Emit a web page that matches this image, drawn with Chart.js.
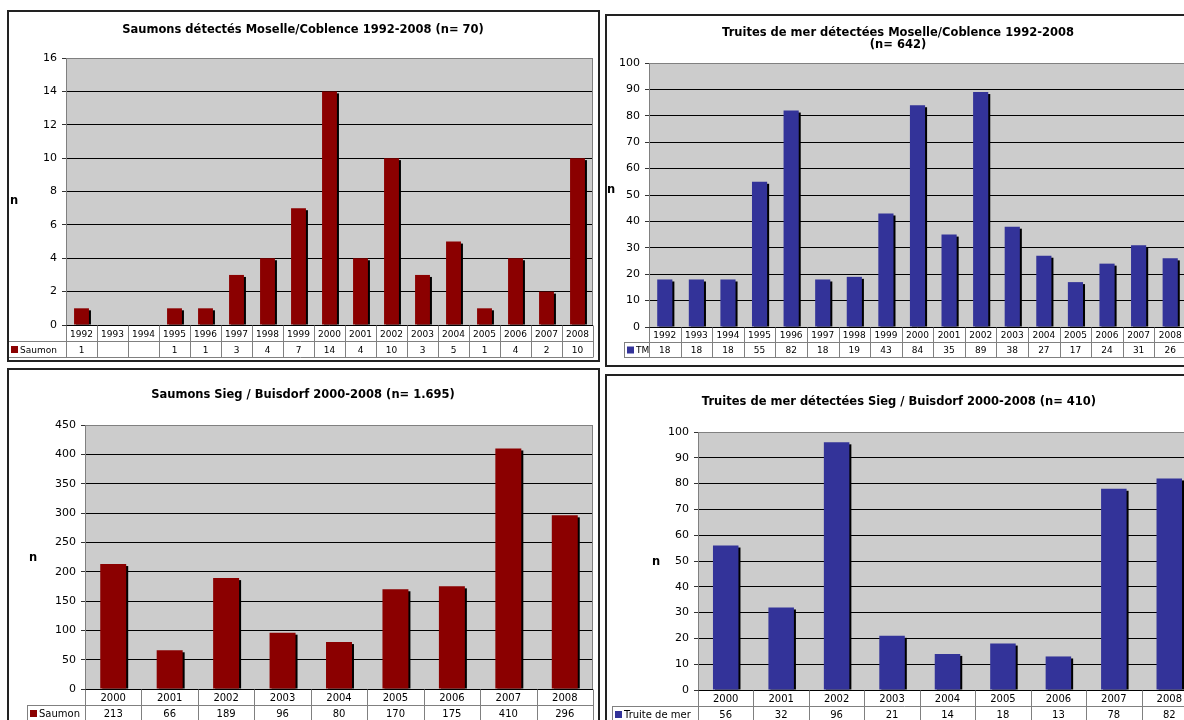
<!DOCTYPE html>
<html>
<head>
<meta charset="utf-8">
<script src="https://cdn.jsdelivr.net/npm/chart.js@4.4.1/dist/chart.umd.min.js"></script>
<style>
  html, body { margin: 0; padding: 0; background: #fff; width: 1184px; height: 720px; overflow: hidden; }
  canvas { position: absolute; }
</style>
</head>
<body>
<canvas id="c1"></canvas>
<canvas id="c2"></canvas>
<canvas id="c3"></canvas>
<canvas id="c4"></canvas>
<script>
// --- data ---
const yearsMoselle = ["1992", "1993", "1994", "1995", "1996", "1997", "1998", "1999", "2000",
  "2001", "2002", "2003", "2004", "2005", "2006", "2007", "2008"];
const saumonMoselle = [1, null, null, 1, 1, 3, 4, 7, 14, 4, 10, 3, 5, 1, 4, 2, 10];
const truiteMoselle = [18, 18, 18, 55, 82, 18, 19, 43, 84, 35, 89, 38, 27, 17, 24, 31, 26];

const yearsSieg = ["2000", "2001", "2002", "2003", "2004", "2005", "2006", "2007", "2008"];
const saumonSieg = [213, 66, 189, 96, 80, 170, 175, 410, 296];
const truiteSieg = [56, 32, 96, 21, 14, 18, 13, 78, 82];

// y axis ranges [max, step]
const axisSaumonMoselle = [16, 2];
const axisTruiteMoselle = [100, 10];
const axisSaumonSieg = [450, 50];
const axisTruiteSieg = [100, 10];

const RED = "#8b0000";
const BLUE = "#333399";
const FONT = "'DejaVu Sans', Verdana, sans-serif";

const panelPlugin = {
  id: "panel",
  beforeDraw: (chart, args, o) => {
    const { ctx, chartArea: a } = chart;
    ctx.save();
    ctx.fillStyle = "#fff";
    ctx.fillRect(0, 0, chart.width, chart.height);
    ctx.fillStyle = "#cccccc";
    ctx.fillRect(a.left, a.top, a.right - a.left, a.bottom - a.top);
    ctx.restore();
  },
  beforeDatasetsDraw: (chart) => {
    // black shadow behind each bar
    const { ctx } = chart;
    const meta = chart.getDatasetMeta(0);
    ctx.save();
    ctx.fillStyle = "#000";
    meta.data.forEach((bar, i) => {
      if (chart.data.datasets[0].data[i] == null) return;
      const p = bar.getProps(["x", "y", "base", "width"], true);
      ctx.fillRect(p.x - p.width / 2 + 2, p.y + 2, p.width, p.base - p.y - 2);
    });
    ctx.restore();
  },
  afterDraw: (chart, args, o) => {
    const { ctx, chartArea: a } = chart;
    const xs = chart.scales.x;
    const labels = chart.data.labels;
    const values = chart.data.datasets[0].data;
    ctx.save();

    // plot border + axis line
    ctx.strokeStyle = "#808080";
    ctx.lineWidth = 1;
    ctx.strokeRect(a.left + 0.5, a.top + 0.5, a.right - a.left - 1, a.bottom - a.top);
    ctx.strokeStyle = "#000";
    ctx.beginPath();
    ctx.moveTo(a.left, a.bottom + 0.5);
    ctx.lineTo(a.right, a.bottom + 0.5);
    ctx.stroke();

    // data table
    const n = labels.length;
    const cw = (xs.right - xs.left) / n;
    const t0 = Math.round(a.bottom) + 0.5;
    const t1 = t0 + o.rowH;
    const t2 = t1 + o.rowH;
    ctx.fillStyle = "#fff";
    ctx.fillRect(xs.left, t0 + 0.5, xs.right - xs.left, o.rowH * 2);
    ctx.fillRect(o.legendX, t1, xs.left - o.legendX, o.rowH);
    ctx.strokeStyle = "#808080";
    ctx.beginPath();
    ctx.moveTo(o.legendX, t1); ctx.lineTo(xs.right, t1);
    ctx.moveTo(o.legendX, t2); ctx.lineTo(xs.right, t2);
    ctx.moveTo(o.legendX + 0.5, t1); ctx.lineTo(o.legendX + 0.5, t2);
    for (let i = 0; i <= n; i++) {
      const x = Math.round(xs.left + i * cw) + 0.5;
      ctx.moveTo(x, t0); ctx.lineTo(x, t2);
    }
    ctx.stroke();

    ctx.fillStyle = "#000";
    ctx.font = o.tableFont + "px " + FONT;
    ctx.textAlign = "center";
    ctx.textBaseline = "middle";
    labels.forEach((lab, i) => {
      const x = xs.getPixelForValue(i);
      ctx.fillText(lab, x, (t0 + t1) / 2 + 1);
      if (values[i] != null) ctx.fillText(String(values[i]), x, (t1 + t2) / 2 + 1);
    });
    // legend key
    const ds = chart.data.datasets[0];
    ctx.fillStyle = ds.backgroundColor;
    ctx.fillRect(o.legendX + 3, (t1 + t2) / 2 - 3.5, 7, 7);
    ctx.fillStyle = "#000";
    ctx.textAlign = "left";
    ctx.fillText(ds.label, o.legendX + 12, (t1 + t2) / 2 + 1);

    // title
    ctx.font = "bold " + o.titleFont + "px " + FONT;
    ctx.textAlign = "center";
    o.title.forEach((line, k) => {
      ctx.fillText(line, o.titleX, o.titleY + k * 12.5);
    });
    // axis name
    ctx.fillText("n", o.nX, o.nY);

    // outer frame
    ctx.strokeStyle = "#222";
    ctx.lineWidth = 2;
    ctx.strokeRect(1, 1, chart.width - 2, chart.height - 2);
    ctx.restore();
  },
};

function makeChart(id, box, plot, labels, data, axis, color, label, extra) {
  const el = document.getElementById(id);
  el.width = box.w;
  el.height = box.h;
  el.style.left = box.x + "px";
  el.style.top = box.y + "px";
  return new Chart(el, {
    type: "bar",
    data: {
      labels: labels,
      datasets: [{
        label: label,
        data: data,
        backgroundColor: color,
        borderWidth: 0,
        barPercentage: extra.barPct,
        categoryPercentage: 1,
      }],
    },
    options: {
      responsive: false,
      animation: false,
      layout: {
        padding: {
          left: 0,
          top: plot.t - box.y,
          right: box.x + box.w - plot.r,
          bottom: box.y + box.h - plot.b,
        },
      },
      plugins: {
        legend: { display: false },
        title: { display: false },
        tooltip: { enabled: false },
        panel: {
          rowH: extra.rowH,
          legendX: extra.legendX - box.x,
          tableFont: extra.tableFont,
          titleFont: 11.5,
          title: extra.title,
          titleX: extra.titleX - box.x,
          titleY: extra.titleY - box.y,
          nX: extra.nX - box.x,
          nY: extra.nY - box.y,
        },
      },
      scales: {
        x: { display: false },
        y: {
          min: 0,
          max: axis[0],
          afterFit: (s) => { s.width = plot.l - box.x; },
          ticks: {
            stepSize: axis[1],
            color: "#000",
            padding: 5,
            font: { family: FONT, size: extra.tickFont },
          },
          grid: {
            color: "#000",
            tickColor: "#333",
            tickLength: 4,
          },
          border: { color: "#808080" },
        },
      },
    },
    plugins: [panelPlugin],
  });
}

makeChart("c1", { x: 7, y: 10, w: 593, h: 352 }, { l: 66, t: 58, r: 593, b: 325 },
  yearsMoselle, saumonMoselle, axisSaumonMoselle, RED, "Saumon",
  { barPct: 0.48, rowH: 16, legendX: 8, tableFont: 9, tickFont: 11,
    title: ["Saumons détectés Moselle/Coblence 1992-2008 (n= 70)"], titleX: 303, titleY: 30,
    nX: 14, nY: 201 });

makeChart("c2", { x: 605, y: 14, w: 590, h: 353 }, { l: 649, t: 63, r: 1186, b: 327 },
  yearsMoselle, truiteMoselle, axisTruiteMoselle, BLUE, "TM",
  { barPct: 0.48, rowH: 15, legendX: 624, tableFont: 9, tickFont: 11,
    title: ["Truites de mer détectées Moselle/Coblence 1992-2008", "(n= 642)"], titleX: 898, titleY: 33,
    nX: 611, nY: 190 });

makeChart("c3", { x: 7, y: 368, w: 593, h: 362 }, { l: 85, t: 425, r: 593, b: 689 },
  yearsSieg, saumonSieg, axisSaumonSieg, RED, "Saumon",
  { barPct: 0.46, rowH: 16, legendX: 27, tableFont: 10, tickFont: 11,
    title: ["Saumons Sieg / Buisdorf 2000-2008 (n= 1.695)"], titleX: 303, titleY: 395,
    nX: 33, nY: 558 });

makeChart("c4", { x: 605, y: 374, w: 600, h: 356 }, { l: 698, t: 432, r: 1197, b: 690 },
  yearsSieg, truiteSieg, axisTruiteSieg, BLUE, "Truite de mer",
  { barPct: 0.46, rowH: 16, legendX: 612, tableFont: 10, tickFont: 11,
    title: ["Truites de mer détectées Sieg / Buisdorf 2000-2008 (n= 410)"], titleX: 899, titleY: 402,
    nX: 656, nY: 562 });
</script>
</body>
</html>
